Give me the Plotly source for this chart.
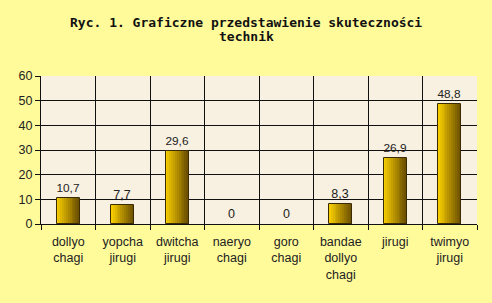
import plotly.graph_objects as go

categories = ["dollyo<br>chagi", "yopcha<br>jirugi", "dwitcha<br>jirugi", "naeryo<br>chagi",
              "goro<br>chagi", "bandae<br>dollyo<br>chagi", "jirugi", "twimyo<br>jirugi"]
values = [10.7, 7.7, 29.6, 0, 0, 8.3, 26.9, 48.8]
y_ticks = [0, 10, 20, 30, 40, 50, 60]
title_lines = ["Ryc. 1. Graficzne przedstawienie skuteczności", "technik"]

W, H = 492, 303
L, R, T, B = 41, 15, 76, 79
bar_w = 0.42

def lerp(c1, c2, t):
    return "rgb(%d,%d,%d)" % tuple(round(a + (b - a) * t) for a, b in zip(c1, c2))

c_left = (246, 204, 0)
c_right = (110, 82, 0)

fig = go.Figure()
N = 12
for i in range(N):
    t = i / (N - 1)
    fig.add_trace(go.Bar(
        x=categories, y=values, width=bar_w / N,
        offset=-bar_w / 2 + i * bar_w / N,
        marker=dict(color=lerp(c_left, c_right, t), line=dict(width=0)),
        hoverinfo="skip", showlegend=False,
    ))
# outline + labels
fig.add_trace(go.Bar(
    x=categories, y=values, width=bar_w, offset=-bar_w / 2,
    marker=dict(color="rgba(0,0,0,0)",
                line=dict(color="#3a2c00", width=[0 if v == 0 else 1 for v in values])),
    text=[("%g" % v).replace(".", ",") for v in values],
    textposition="outside", cliponaxis=False,
    textfont=dict(family="Liberation Sans, Arial", size=12.5, color="#222"),
    showlegend=False,
))

plot_h = H - T - B
for k, (line, ypx) in enumerate(zip(title_lines, [22.7, 37.0])):
    fig.add_annotation(
        text=line, xref="paper", yref="paper",
        x=(246 - L) / (W - L - R), y=(H - B - ypx) / plot_h,
        xanchor="center", yanchor="middle", showarrow=False,
        font=dict(family="DejaVu Sans Mono", size=13, color="#111", weight="bold"),
    )

fig.update_layout(
    width=W, height=H, margin=dict(l=L, r=R, t=T, b=B),
    paper_bgcolor="#FFFB9A", plot_bgcolor="#F8F0E0",
    barmode="overlay", bargap=0, showlegend=False,
    font=dict(family="Liberation Sans, Arial", size=12, color="#222"),
)
fig.update_xaxes(
    type="category", tickson="boundaries", showgrid=True, gridcolor="#111", gridwidth=1,
    ticks="outside", ticklen=5, tickcolor="#111", showline=True, linecolor="#111",
    tickfont=dict(size=12.5, color="#222"), range=[-0.5, len(categories) - 0.5],
    ticklabelstandoff=6,
)
fig.update_yaxes(
    range=[0, 60], tickvals=y_ticks, showgrid=True, gridcolor="#111", gridwidth=1,
    ticks="outside", ticklen=5, tickcolor="#111", showline=True, linecolor="#111",
    tickfont=dict(size=12.5, color="#222"), zeroline=False, mirror=False,
)
fig.write_html("out.html")
